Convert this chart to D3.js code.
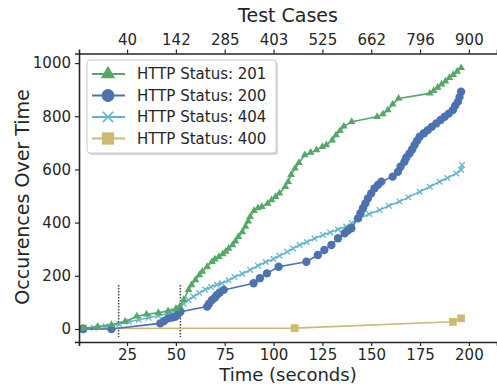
<!DOCTYPE html>
<html>
<head>
<meta charset="utf-8">
<script src="https://cdn.jsdelivr.net/npm/d3@7"></script>
<style>
  body { margin: 0; background: #fff; }
  svg { font-family: "DejaVu Sans", sans-serif; }
</style>
</head>
<body>
<svg id="chart" width="497" height="384"></svg>
<script>
// Values
const xTicks = [25, 50, 75, 100, 125, 150, 175, 200];
const testCaseLabels = ["40", "142", "285", "403", "525", "662", "796", "900"];
const yTicks = [0, 200, 400, 600, 800, 1000];
const markerLines = [20.7, 52.3];

const status201 = [[2.5,3],[10,9],[17,16],[24,28],[30,48],[35,55],[41,61],[46,68],[50,76],[52,85],
  [54,110],[56.5,147],[58,165],[60,184],[62,203],[63.5,216],[66,234],[68.5,253],[70,262],[72,272],
  [74,282],[75.5,291],[77,303],[79,316],[80.5,330],[82,347],[84,365],[85.6,385],[87,405],[88,422],
  [90,445],[92,455],[94,460],[97,472],[99,485],[101,497],[103,510],[106,535],[107.5,554],[109,580],
  [111,604],[113,625],[116,654],[119,664],[122,673],[125,685],[127,692],[130,710],[132,729],[134,745],
  [136,762],[140,779],[153,798],[156,808],[158.5,823],[161,845],[164,867],[180,886],[182,896],[184,908],
  [186,920],[188,932],[190,945],[192,956],[194,968],[196,982]];

const status200 = [[2.5,0],[17,0],[42,21],[44,30],[46,40],[48,43],[49.7,46],[51,55],[52.3,65],
  [66,84],[67,95],[68.5,109],[70,118],[71,128],[72.5,137],[74.5,147],[89.8,172],[93,191],[96.6,209],
  [102.6,234],[116.8,253],[122.7,278],[126,297],[129.6,316],[133,341],[136.4,360],[138,370],[139.8,379],
  [143.2,416],[144.5,435],[145.8,454],[147,472],[148.3,491],[150,510],[151.7,529],[153.5,542],[155.2,554],
  [161,573],[163.7,591],[165,610],[167,629],[168,645],[169.6,660],[171,676],[172.2,692],[173.5,708],
  [174.8,723],[177,736],[179,748],[181,760],[183.3,773],[185.5,786],[187.6,798],[189.7,810],[191.8,823],
  [193,840],[194.4,855],[195.2,872],[196,892]];

const status404 = [[2.5,0],[8,5],[14,10],[21,18],[26,27],[31,35],[36,42],[41,50],[46,58],[49,68],
  [51.4,79],[54,95],[56.5,109],[59,122],[62,135],[65,148],[68,158],[71,166],[73.6,172],[77,183],
  [80,195],[84,208],[88,222],[92,238],[96,252],[100,263],[103,275],[107,290],[110,303],[113.4,316],
  [117,327],[121,340],[125.3,353],[129,363],[133,374],[137.2,385],[140,398],[144,416],[149,432],
  [154.3,447],[159,463],[164.5,479],[169,495],[174.8,516],[180,535],[185,554],[189,568],[193.5,585],
  [196,598],[196.5,617]];

const status400 = [[2.5,2],[110.8,3],[191.8,27],[196,40]];

const series = [
  { label: "HTTP Status: 201", data: status201, color: "#55A868", symbol: d3.symbolTriangle, size: 26, legendSize: 90 },
  { label: "HTTP Status: 200", data: status200, color: "#4C72B0", symbol: d3.symbolCircle, size: 55, legendSize: 130 },
  { label: "HTTP Status: 404", data: status404, color: "#64B5CD", symbol: d3.symbolTimes, size: 22, legendSize: 70 },
  { label: "HTTP Status: 400", data: status400, color: "#CCB974", symbol: d3.symbolSquare, size: 60, legendSize: 150 }
];

const TEXT = "#262626";
const svg = d3.select("#chart");

const x = d3.scaleLinear().domain([0.4, 214.4]).range([79, 497]);
const y = d3.scaleLinear().domain([-49, 1036]).range([342, 53.5]);

svg.append("defs").append("clipPath").attr("id", "plot-clip")
  .append("rect").attr("x", 79).attr("y", 53.5).attr("width", 418).attr("height", 288.5);

const plot = svg.append("g").attr("clip-path", "url(#plot-clip)");

// dotted marker lines
markerLines.forEach(v => {
  plot.append("line")
    .attr("x1", x(v)).attr("x2", x(v))
    .attr("y1", y(165)).attr("y2", y(-30))
    .attr("stroke", "#444").attr("stroke-width", 1.5)
    .attr("stroke-dasharray", "1.5,1.5");
});

const line = d3.line().x(d => x(d[0])).y(d => y(d[1]));

// draw from back to front: 400, 404, 200, 201
[series[3], series[2], series[1], series[0]].forEach(s => {
  plot.append("path").datum(s.data)
    .attr("d", line).attr("fill", "none")
    .attr("stroke", s.color).attr("stroke-width", 1.6);
  const sym = d3.symbol().type(s.symbol).size(s.size);
  plot.selectAll(null).data(s.data).join("path")
    .attr("transform", d => `translate(${x(d[0])},${y(d[1])})`)
    .attr("d", sym)
    .attr("fill", s.symbol === d3.symbolTimes ? "none" : s.color)
    .attr("stroke", s.symbol === d3.symbolTimes ? s.color : "none")
    .attr("stroke-width", 1.3);
});

// axes
const bottomAxis = svg.append("g").attr("transform", "translate(0,342)")
  .call(d3.axisBottom(x).tickValues(xTicks).tickSize(4).tickPadding(3));
const topAxis = svg.append("g").attr("transform", "translate(0,53.5)")
  .call(d3.axisTop(x).tickValues(xTicks).tickFormat((d, i) => testCaseLabels[i]).tickSize(4).tickPadding(5));
const leftAxis = svg.append("g").attr("transform", "translate(79,0)")
  .call(d3.axisLeft(y).tickValues(yTicks).tickFormat(d3.format("d")).tickSize(4).tickPadding(4));

[bottomAxis, topAxis, leftAxis].forEach(a => {
  a.select(".domain").attr("stroke", TEXT).attr("stroke-width", 1.6);
  a.selectAll(".tick line").attr("stroke", TEXT).attr("stroke-width", 1.2);
  a.selectAll(".tick text").attr("fill", TEXT).style("font-size", "15px")
    .style("font-family", "DejaVu Sans, sans-serif");
});

// axis titles
svg.append("text").attr("x", 288).attr("y", 22).attr("text-anchor", "middle")
  .attr("fill", TEXT).style("font-size", "19px").text("Test Cases");
svg.append("text").attr("x", 288).attr("y", 381).attr("text-anchor", "middle")
  .attr("fill", TEXT).style("font-size", "18px").text("Time (seconds)");
svg.append("text").attr("transform", "translate(29,197) rotate(-90)").attr("text-anchor", "middle")
  .attr("fill", TEXT).style("font-size", "19px").text("Occurences Over Time");

// legend
const legend = svg.append("g");
legend.append("rect").attr("x", 89).attr("y", 62).attr("width", 189).attr("height", 93)
  .attr("rx", 3).attr("fill", "#d8d8d8");
legend.append("rect").attr("x", 87).attr("y", 60).attr("width", 189).attr("height", 93)
  .attr("rx", 3).attr("fill", "#fff").attr("stroke", "#cccccc").attr("stroke-width", 1);

series.forEach((s, i) => {
  const cy = 74 + i * 21.5;
  const row = legend.append("g");
  row.append("line").attr("x1", 92).attr("x2", 125).attr("y1", cy).attr("y2", cy)
    .attr("stroke", s.color).attr("stroke-width", 2);
  row.append("path").attr("transform", `translate(108,${cy})`)
    .attr("d", d3.symbol().type(s.symbol).size(s.legendSize))
    .attr("fill", s.symbol === d3.symbolTimes ? "none" : s.color)
    .attr("stroke", s.symbol === d3.symbolTimes ? s.color : "none")
    .attr("stroke-width", 1.5);
  row.append("text").attr("x", 137).attr("y", cy).attr("dy", "0.35em")
    .attr("fill", TEXT).style("font-size", "15px").text(s.label);
});
</script>
</body>
</html>
